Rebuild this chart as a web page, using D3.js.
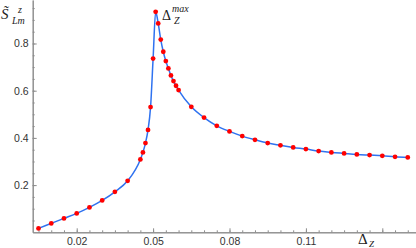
<!DOCTYPE html>
<html>
<head>
<meta charset="utf-8">
<script src="https://cdn.jsdelivr.net/npm/d3@7"></script>
<style>
  body { margin: 0; background: #fff; }
  svg { display: block; }
</style>
</head>
<body>
<svg width="416" height="248"></svg>
<script>
// valeurs
const deltaZ = [0.005, 0.01, 0.015, 0.02, 0.025, 0.03, 0.035, 0.04,
  0.045, 0.046, 0.047, 0.048, 0.049, 0.05, 0.051, 0.052, 0.053, 0.054,
  0.055, 0.056, 0.057, 0.058, 0.059, 0.06,
  0.065, 0.07, 0.075, 0.08, 0.085, 0.09, 0.095, 0.1, 0.105, 0.11,
  0.115, 0.12, 0.125, 0.13, 0.135, 0.14, 0.145, 0.15];
const sLm = [0.0165, 0.0377, 0.0589, 0.0801, 0.1055, 0.1352, 0.1716, 0.2182,
  0.3089, 0.3386, 0.378, 0.4339, 0.5305, 0.736, 0.934, 0.885, 0.8165, 0.765,
  0.7254, 0.6945, 0.6648, 0.6407, 0.621, 0.6025,
  0.5318, 0.486, 0.4513, 0.4275, 0.4076, 0.392, 0.378, 0.3686, 0.3597, 0.3525,
  0.344, 0.3386, 0.3343, 0.3301, 0.3271, 0.3242, 0.32, 0.3174];
const xTicks = [0.02, 0.05, 0.08, 0.11, 0.14];
const xMinor = d3.range(1, 31).map(i => +(i * 0.005).toFixed(3));
const yTicks = [0.2, 0.4, 0.6, 0.8];
const yMinor = d3.range(1, 20).map(i => +(i * 0.05).toFixed(2));

const data = deltaZ.map((d, i) => ({x: d, y: sLm[i]}));

const svg = d3.select("svg");

const x = d3.scaleLinear().domain([0.00272, 0.15323]).range([32.7, 416]);
const y = d3.scaleLinear().domain([0, 0.9843]).range([232.3, 0]);

const axisColor = "#8c8c8c";

// axe x - petites graduations
svg.append("g")
  .attr("transform", `translate(0,${y(0)})`)
  .call(d3.axisBottom(x).tickValues(xMinor).tickSize(-2).tickSizeOuter(0).tickFormat(""))
  .call(g => g.selectAll("line, path").attr("stroke", axisColor));

// axe x - grandes graduations
svg.append("g")
  .attr("transform", `translate(0,${y(0)})`)
  .call(d3.axisBottom(x).tickValues(xTicks).tickSize(-4).tickSizeOuter(0).tickPadding(5)
    .tickFormat(d => d === 0.14 ? "" : d3.format(".2f")(d)))
  .call(g => g.selectAll("line, path").attr("stroke", axisColor))
  .call(g => g.selectAll("text").attr("fill", "#333")
    .attr("font-family", "Liberation Sans, Arial, sans-serif").attr("font-size", "10.5px"));

// axe y
svg.append("g")
  .attr("transform", `translate(${x.range()[0]},0)`)
  .call(d3.axisLeft(y).tickValues(yMinor).tickSize(-2).tickSizeOuter(0).tickFormat(""))
  .call(g => g.selectAll("line, path").attr("stroke", axisColor));

svg.append("g")
  .attr("transform", `translate(${x.range()[0]},0)`)
  .call(d3.axisLeft(y).tickValues(yTicks).tickSize(-4).tickSizeOuter(0).tickPadding(4)
    .tickFormat(d3.format(".1f")))
  .call(g => g.selectAll("line, path").attr("stroke", axisColor))
  .call(g => g.selectAll("text").attr("fill", "#333")
    .attr("font-family", "Liberation Sans, Arial, sans-serif").attr("font-size", "10.5px"));

// courbe
const line = d3.line()
  .x(d => x(d.x))
  .y(d => y(d.y))
  .curve(d3.curveMonotoneX);

svg.append("path")
  .datum(data)
  .attr("fill", "none")
  .attr("stroke", "#2f72f0")
  .attr("stroke-width", 1.5)
  .attr("d", line);

// points
svg.selectAll("circle")
  .data(data)
  .join("circle")
  .attr("cx", d => x(d.x))
  .attr("cy", d => y(d.y))
  .attr("r", 2.4)
  .attr("fill", "#ff0000");

// labels mathématiques
const serif = "Liberation Serif, DejaVu Serif, serif";

const yl = svg.append("g").attr("font-family", serif).attr("fill", "#222");
yl.append("text").attr("x", 1).attr("y", 19).attr("font-size", "15px")
  .attr("font-style", "italic").text("S\u0303");
yl.append("text").attr("x", 18).attr("y", 13).attr("font-size", "10px")
  .attr("font-style", "italic").text("z");
yl.append("text").attr("x", 12).attr("y", 24).attr("font-size", "10px")
  .attr("font-style", "italic").text("Lm");

const pk = svg.append("g").attr("font-family", serif).attr("fill", "#222");
pk.append("text").attr("x", 162).attr("y", 20).attr("font-size", "14px").text("Δ");
pk.append("text").attr("x", 172).attr("y", 12).attr("font-size", "10px")
  .attr("font-style", "italic").text("max");
pk.append("text").attr("x", 174).attr("y", 24).attr("font-size", "10px")
  .attr("font-style", "italic").text("Z");

const xl = svg.append("g").attr("font-family", serif).attr("fill", "#222");
xl.append("text").attr("x", 358).attr("y", 244).attr("font-size", "15px").text("Δ");
xl.append("text").attr("x", 369).attr("y", 247).attr("font-size", "9px")
  .attr("font-style", "italic").text("Z");
</script>
</body>
</html>
